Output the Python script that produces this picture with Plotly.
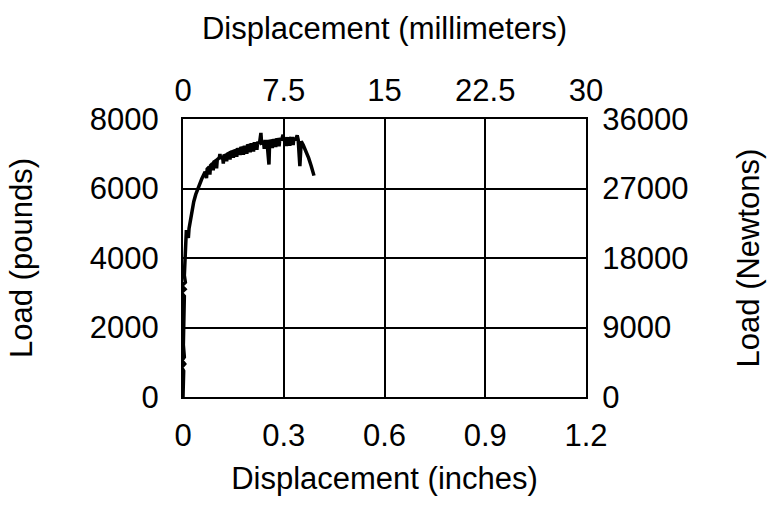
import plotly.graph_objects as go

# Displacement (inches) and load (pounds)
disp_in = [
    0.000, 0.001, 0.000, 0.002, -0.004, 0.005, -0.003, 0.004, 0.001, 0.002,
    0.003, 0.004, -0.005, 0.006, -0.004, 0.007, 0.004, 0.005, 0.006, 0.007,
    0.008, 0.010, 0.012, 0.016, 0.018, 0.022, 0.026, 0.032, 0.038, 0.044,
    0.050, 0.056, 0.062,
    0.066, 0.070, 0.072, 0.078, 0.080, 0.082, 0.088, 0.090, 0.092, 0.098,
    0.100, 0.102, 0.108, 0.110, 0.112, 0.118, 0.120, 0.122, 0.128, 0.130,
    0.132, 0.138, 0.140, 0.142, 0.148, 0.150, 0.152, 0.158, 0.160, 0.162,
    0.168, 0.170, 0.172, 0.178, 0.180, 0.182, 0.188, 0.190, 0.192, 0.198,
    0.200, 0.202, 0.208, 0.210, 0.212, 0.218, 0.220, 0.222, 0.228, 0.232,
    0.234, 0.240, 0.242, 0.244, 0.250, 0.256, 0.258, 0.264, 0.266, 0.268,
    0.274, 0.276, 0.278, 0.284, 0.286, 0.288, 0.294, 0.298, 0.300, 0.306,
    0.308, 0.310, 0.316, 0.318, 0.320, 0.326, 0.328, 0.330, 0.336, 0.340,
    0.343, 0.348, 0.352, 0.358, 0.366, 0.374, 0.382, 0.390,
]
load_lb = [
    0, 250, 500, 750, 850, 950, 1050, 1150, 1500, 2000,
    2500, 2900, 3000, 3100, 3200, 3300, 3500, 3800, 4100, 4400,
    4600, 4800, 4700, 4580, 4850, 5100, 5380, 5620, 5830, 6000,
    6150, 6280, 6400,
    6480, 6300, 6560, 6620, 6400, 6660, 6720, 6520, 6760, 6800,
    6580, 6830, 6880, 6990, 6860, 6910, 6720, 6940, 6960, 6780,
    6990, 7020, 6830, 7040, 7060, 6880, 7080, 7100, 6910, 7120,
    7130, 6960, 7160, 7170, 6970, 7190, 7200, 7000, 7230, 7240,
    7040, 7260, 7270, 7060, 7290, 7290, 7110, 7310, 7320, 7600,
    7310, 7330, 7140, 7350, 7350, 6690, 7360, 7370, 7160, 7380,
    7390, 7190, 7400, 7410, 7210, 7410, 7420, 7550, 7420, 7430,
    7220, 7430, 7440, 7230, 7440, 7440, 7250, 7430, 7420, 7530,
    7400, 6640, 7360, 7250, 7080, 6880, 6640, 6370,
]

# Conversion factors used by the secondary (metric) axes
MM_PER_IN = 25.0
N_PER_LB = 4.5

x_ticks_in = [0, 0.3, 0.6, 0.9, 1.2]
x_labels_in = ["0", "0.3", "0.6", "0.9", "1.2"]
x_ticks_mm = [0, 7.5, 15, 22.5, 30]
x_labels_mm = ["0", "7.5", "15", "22.5", "30"]
y_ticks_lb = [0, 2000, 4000, 6000, 8000]
y_labels_lb = ["0", "2000", "4000", "6000", "8000"]
y_ticks_n = [0, 9000, 18000, 27000, 36000]
y_labels_n = ["0", "9000", "18000", "27000", "36000"]

FONT = "Liberation Sans, Arial, sans-serif"
TICK = dict(family=FONT, size=31, color="black")
TITLE = dict(family=FONT, size=31, color="black")

fig = go.Figure()
fig.add_trace(go.Scatter(
    x=disp_in, y=load_lb, mode="lines",
    line=dict(color="black", width=3.5), showlegend=False, hoverinfo="skip",
))
fig.add_trace(go.Scatter(
    x=[v * MM_PER_IN for v in disp_in], y=[v * N_PER_LB for v in load_lb],
    xaxis="x2", yaxis="y2", mode="lines", opacity=0,
    line=dict(color="black", width=0), showlegend=False, hoverinfo="skip",
))

fig.update_layout(
    width=776, height=517,
    margin=dict(l=183, r=190, t=119, b=120),
    paper_bgcolor="white", plot_bgcolor="white",
    xaxis=dict(
        range=[0, 1.2], tickvals=x_ticks_in, ticktext=x_labels_in,
        showgrid=True, gridcolor="black", gridwidth=1.5,
        showline=True, linecolor="black", linewidth=2,
        ticks="", tickfont=TICK, ticklabelstandoff=10, zeroline=False,
        title=dict(text="Displacement (inches)", font=TITLE, standoff=15),
    ),
    xaxis2=dict(
        range=[0, 30], tickvals=x_ticks_mm, ticktext=x_labels_mm,
        overlaying="x", side="top", anchor="y",
        showgrid=False, showline=True, linecolor="black", linewidth=2,
        ticks="", tickfont=TICK, ticklabelstandoff=4, zeroline=False,
        title=dict(text="Displacement (millimeters)", font=TITLE, standoff=24),
    ),
    yaxis=dict(
        range=[0, 8000], tickvals=y_ticks_lb, ticktext=y_labels_lb,
        showgrid=True, gridcolor="black", gridwidth=1.5,
        showline=True, linecolor="black", linewidth=2,
        ticks="", tickfont=TICK, ticklabelstandoff=16, zeroline=False,
        title=dict(text="Load (pounds)", font=TITLE, standoff=48),
    ),
    yaxis2=dict(
        range=[0, 36000], tickvals=y_ticks_n, ticktext=y_labels_n,
        overlaying="y", side="right", anchor="x",
        showgrid=False, showline=True, linecolor="black", linewidth=2,
        ticks="", tickfont=TICK, ticklabelstandoff=8, zeroline=False,
        title=dict(text="Load (Newtons)", font=TITLE, standoff=50),
    ),
)

fig.write_html("out.html")
